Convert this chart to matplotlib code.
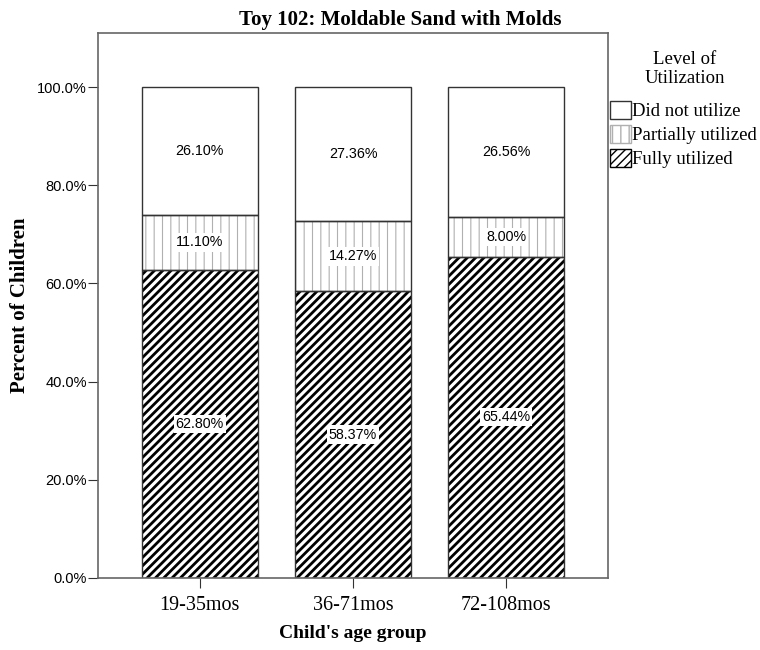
import matplotlib.pyplot as plt
from matplotlib.patches import Patch

ages = ["19-35mos", "36-71mos", "72-108mos"]
fully = [62.80, 58.37, 65.44]
partially = [11.10, 14.27, 8.00]
not_used = [26.10, 27.36, 26.56]
levels = ["Did not utilize", "Partially utilized", "Fully utilized"]

serif = "Liberation Serif"
sans = "Liberation Sans"
edge = "#333333"
dotc = "#b0b0b0"

fig = plt.figure(figsize=(7.6, 6.5), dpi=100)
ax = fig.add_axes([0.129, 0.111, 0.671, 0.838])

x = list(range(len(ages)))
w = 0.756
bottom2 = [f + p for f, p in zip(fully, partially)]

# fully utilized: thick diagonal hatch
with plt.rc_context({"hatch.linewidth": 2.0}):
    ax.bar(x, fully, w, color="white", edgecolor="black", hatch="////", linewidth=0)
# partially: faint grey vertical lines
with plt.rc_context({"hatch.linewidth": 0.8}):
    ax.bar(x, partially, w, bottom=fully, color="white", edgecolor=dotc, hatch="||", linewidth=0)
ax.bar(x, not_used, w, bottom=bottom2, color="white", linewidth=0)
for vals, bots in ((fully, [0, 0, 0]), (partially, fully), (not_used, bottom2)):
    ax.bar(x, vals, w, bottom=bots, fill=False, edgecolor=edge, linewidth=1.0)

for i in x:
    for val, bot in ((fully[i], 0), (partially[i], fully[i]), (not_used[i], bottom2[i])):
        ax.text(i, bot + val / 2, f"{val:.2f}%", ha="center", va="center",
                fontsize=10.3, family=sans,
                bbox=dict(facecolor="white", edgecolor="none", pad=1.5))

ax.set_xlim(-0.664, 2.664)
ax.set_ylim(0, 111)
ax.set_xticks(x)
ax.set_xticklabels(ages, family=serif, fontsize=14.5)
ax.set_yticks([0, 20, 40, 60, 80, 100])
ax.set_yticklabels([f"{v:.1f}%" for v in [0, 20, 40, 60, 80, 100]], family=sans, fontsize=10.5)
ax.tick_params(length=7, color=edge, pad=1)
ax.tick_params(axis="x", pad=6)
for s in ax.spines.values():
    s.set_color("#666666")
    s.set_linewidth(1.2)

fig.text(0.526, 0.969, "Toy 102: Moldable Sand with Molds", family=serif, fontsize=15,
         fontweight="bold", ha="center", va="center")
ax.set_xlabel("Child's age group", family=serif, fontsize=14, fontweight="bold", labelpad=7)
ax.set_ylabel("Percent of Children", family=serif, fontsize=15, fontweight="bold", labelpad=5)

fig.text(0.901, 0.894, "Level of\nUtilization", family=serif, fontsize=13.5,
         ha="center", va="center", linespacing=1.15)
handles = [
    Patch(facecolor="white", edgecolor=edge),
    Patch(facecolor="white", edgecolor=dotc, hatch="||"),
    Patch(facecolor="white", edgecolor="black", hatch="////"),
]
fig.legend(handles, levels, loc="upper left", bbox_to_anchor=(0.803, 0.845),
           frameon=False, prop={"family": serif, "size": 13.5},
           handlelength=1.1, handleheight=1.1,
           handletextpad=0.05, labelspacing=0.25, borderpad=0, borderaxespad=0)

fig.savefig("out.png", dpi=100)
